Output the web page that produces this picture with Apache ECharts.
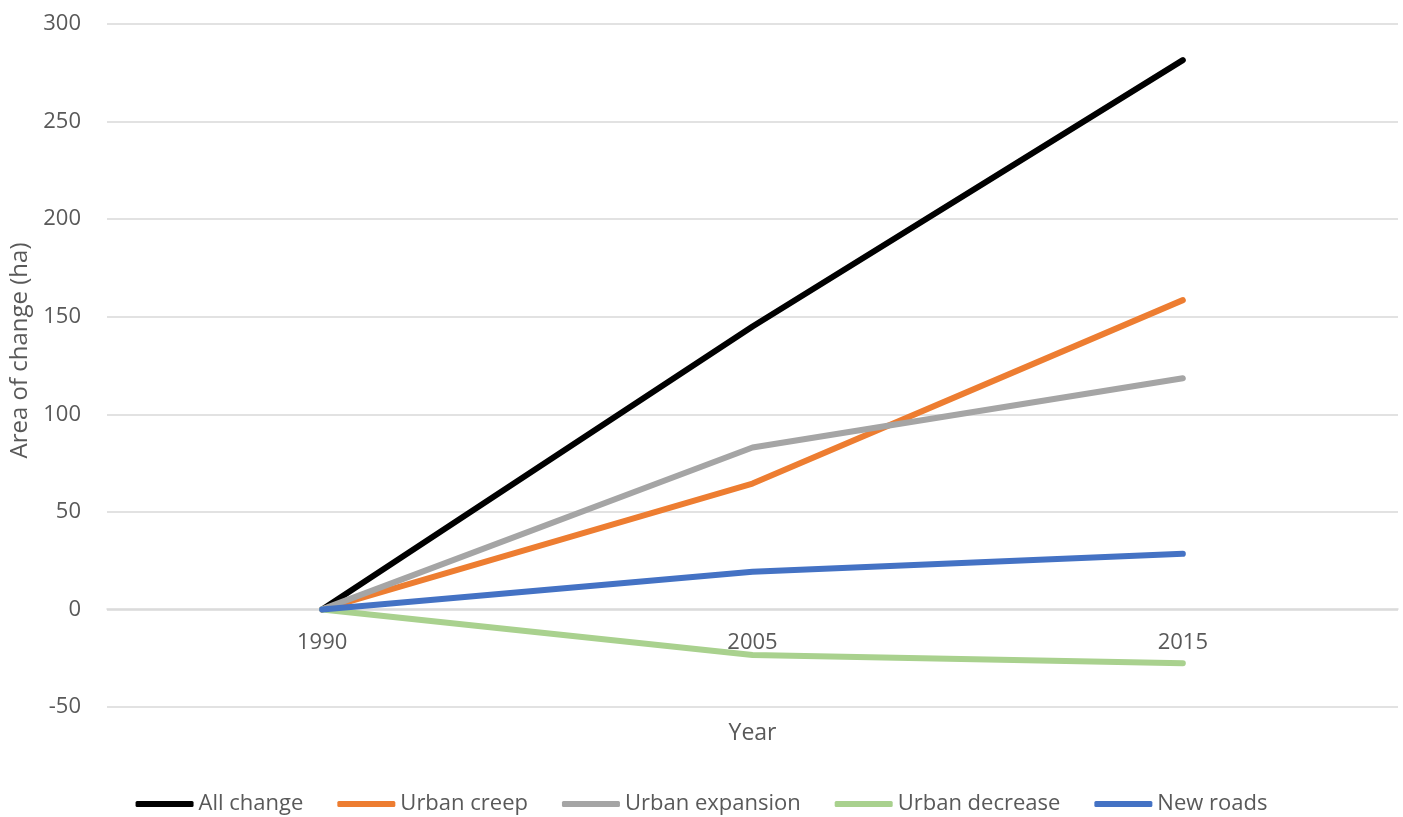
<!DOCTYPE html>
<html>
<head>
<meta charset="utf-8">
<script src="https://cdn.jsdelivr.net/npm/echarts@6/dist/echarts.min.js"></script>
<style>
html,body{margin:0;padding:0;background:#fff;}
#chart{width:1403px;height:817px;}
</style>
</head>
<body>
<div id="chart"></div>
<script>
var years = ['1990', '2005', '2015'];
var allChange = [0, 145, 281.5];
var urbanCreep = [0, 64.5, 158.5];
var urbanExpansion = [0, 83, 118.5];
var urbanDecrease = [0, -23.3, -27.6];
var newRoads = [0, 19.3, 28.5];
var seriesNames = ['All change', 'Urban creep', 'Urban expansion', 'Urban decrease', 'New roads'];
var seriesColors = ['#000000', '#ED7D31', '#A5A5A5', '#A9D18E', '#4472C4'];
var seriesData = [allChange, urbanCreep, urbanExpansion, urbanDecrease, newRoads];

var font = 'Open Sans';
var chart = echarts.init(document.getElementById('chart'));
chart.setOption({
  animation: false,
  color: seriesColors,
  grid: {left: 107, right: 5, top: 24, bottom: 110, outerBoundsMode: 'none', containLabel: false},
  legend: {
    bottom: 2,
    left: 'center',
    padding: 0,
    icon: 'roundRect',
    itemWidth: 58,
    itemHeight: 6,
    itemGap: 34,
    textStyle: {fontFamily: font, fontSize: 22, color: '#595959'},
    data: seriesNames
  },
  xAxis: {
    type: 'category',
    data: years,
    boundaryGap: true,
    offset: -98,
    name: 'Year',
    nameLocation: 'middle',
    nameGap: 113,
    nameTextStyle: {fontFamily: font, fontSize: 23, color: '#595959'},
    axisLine: {show: true, onZero: false, lineStyle: {color: '#d9d9d9', width: 1.5}},
    axisTick: {show: false},
    axisLabel: {fontFamily: font, fontSize: 22, color: '#595959', margin: 23}
  },
  yAxis: {
    type: 'value',
    min: -50,
    max: 300,
    interval: 50,
    name: 'Area of change (ha)',
    nameLocation: 'middle',
    nameGap: 70,
    nameTextStyle: {fontFamily: font, fontSize: 24, color: '#595959', padding: [0, 0, 0, 30]},
    axisLine: {show: false},
    axisTick: {show: false},
    axisLabel: {fontFamily: font, fontSize: 22, color: '#595959', margin: 26},
    splitLine: {lineStyle: {color: '#d9d9d9', width: 1.5}}
  },
  series: seriesNames.map(function (n, i) {
    return {
      name: n,
      type: 'line',
      data: seriesData[i],
      showSymbol: false,
      symbol: 'none',
      lineStyle: {width: 6, color: seriesColors[i], cap: 'round'},
      itemStyle: {color: seriesColors[i]}
    };
  })
});
</script>
</body>
</html>
